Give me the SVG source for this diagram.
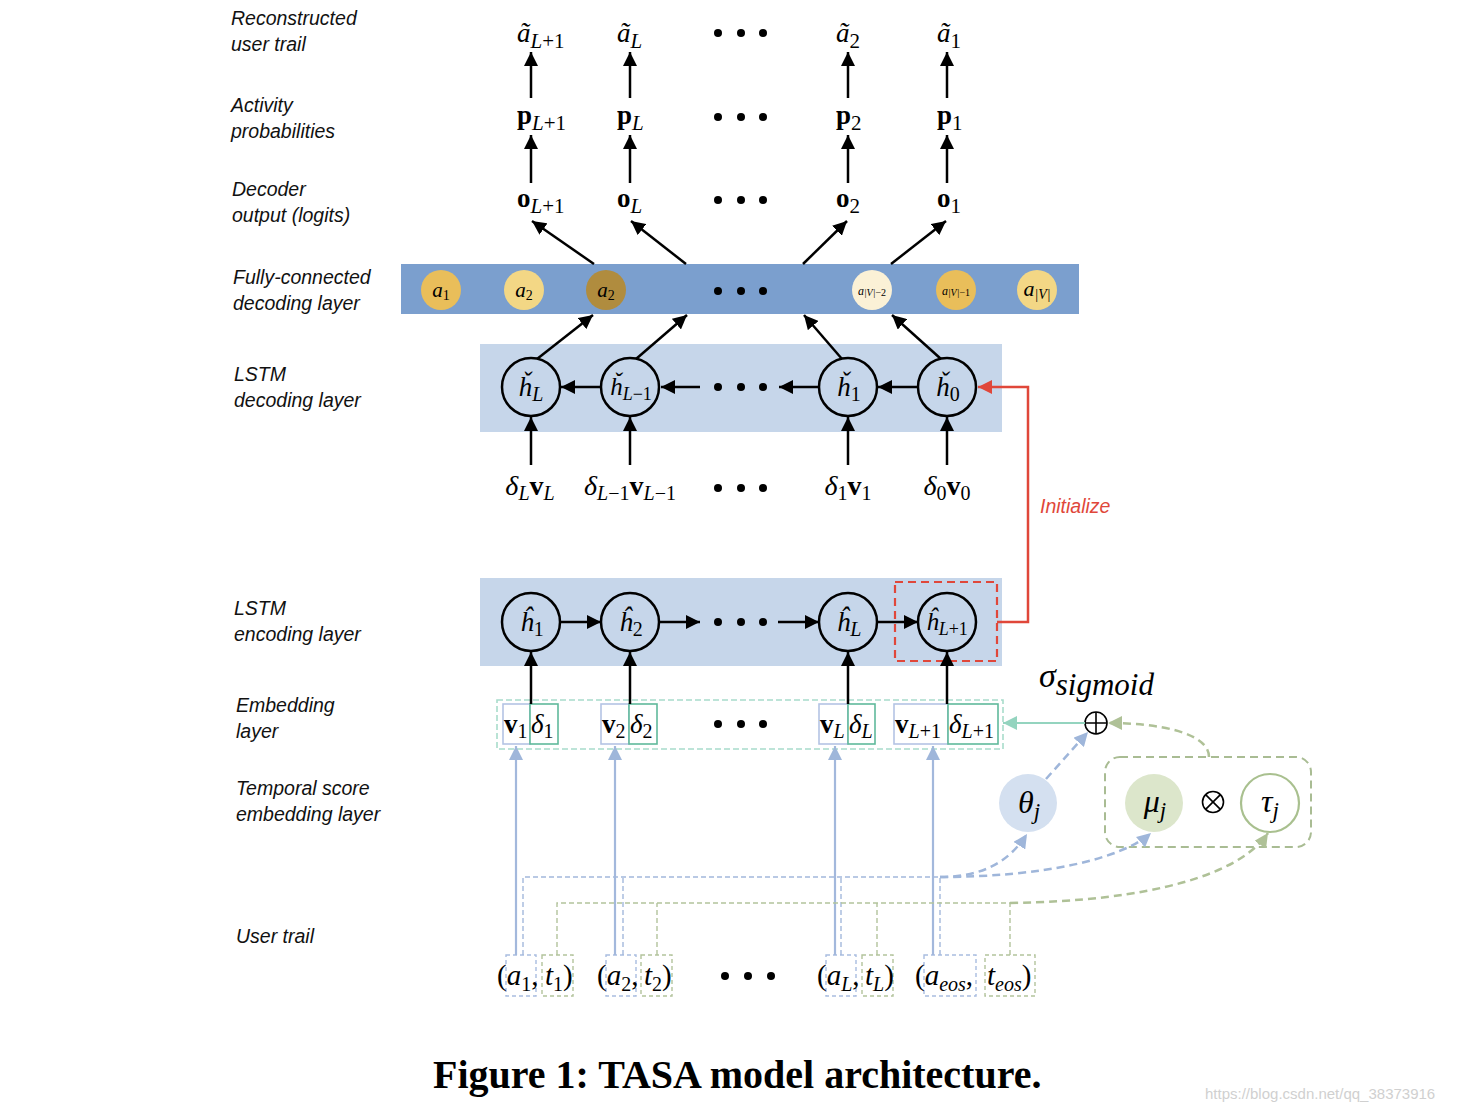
<svg xmlns="http://www.w3.org/2000/svg" width="1458" height="1112" viewBox="0 0 1458 1112">
<style>
.lbl{font-family:"Liberation Sans","DejaVu Sans",sans-serif;font-style:italic;font-size:19.5px;fill:#111}
.m{font-family:"Liberation Serif","DejaVu Serif",serif;fill:#000}
.it{font-style:italic}
.bf{font-weight:bold;font-style:normal}
.nw{font-weight:normal}
.up{font-style:normal}
.ln{stroke:#000;stroke-width:2.5;fill:none}
.cir{stroke:#000;stroke-width:2.5;fill:none}
.dot{fill:#000}
.bl{stroke:#A3B8DC;stroke-width:2.2;fill:none}
.bld{stroke:#A3B8DC;stroke-width:1.4;fill:none;stroke-dasharray:5 3}
.grd{stroke:#B3C39C;stroke-width:1.4;fill:none;stroke-dasharray:5 3}
.bld2{stroke:#9FB6DA;stroke-width:2.5;fill:none;stroke-dasharray:8 5}
.grd2{stroke:#AFC197;stroke-width:2.5;fill:none;stroke-dasharray:8 5}
.bbox{stroke:#A9BDE0;stroke-width:1.4;fill:none;stroke-dasharray:4 3}
.gbox{stroke:#B3C39C;stroke-width:1.4;fill:none;stroke-dasharray:4 3}
</style>
<defs>
<marker id="ak" viewBox="0 0 14 14" refX="14" refY="7" markerWidth="14" markerHeight="14" markerUnits="userSpaceOnUse" orient="auto"><path d="M0,0L14,7L0,14z" fill="#000"/></marker>
<marker id="ar" viewBox="0 0 14 14" refX="14" refY="7" markerWidth="14" markerHeight="14" markerUnits="userSpaceOnUse" orient="auto"><path d="M0,0L14,7L0,14z" fill="#E0473A"/></marker>
<marker id="ab" viewBox="0 0 14 14" refX="14" refY="7" markerWidth="14" markerHeight="14" markerUnits="userSpaceOnUse" orient="auto"><path d="M0,0L14,7L0,14z" fill="#9FB6DA"/></marker>
<marker id="ag" viewBox="0 0 14 14" refX="14" refY="7" markerWidth="14" markerHeight="14" markerUnits="userSpaceOnUse" orient="auto"><path d="M0,0L14,7L0,14z" fill="#AFC197"/></marker>
<marker id="at" viewBox="0 0 14 14" refX="14" refY="7" markerWidth="14" markerHeight="14" markerUnits="userSpaceOnUse" orient="auto"><path d="M0,0L14,7L0,14z" fill="#94D4BF"/></marker>
</defs>
<rect width="1458" height="1112" fill="#fff"/>

<!-- left labels -->
<g id="labels">
<text class="lbl" x="231" y="25">Reconstructed</text><text class="lbl" x="231" y="51">user trail</text>
<text class="lbl" x="231" y="112">Activity</text><text class="lbl" x="231" y="138">probabilities</text>
<text class="lbl" x="232" y="196">Decoder</text><text class="lbl" x="232" y="222">output (logits)</text>
<text class="lbl" x="233" y="284">Fully-connected</text><text class="lbl" x="233" y="310">decoding layer</text>
<text class="lbl" x="234" y="381">LSTM</text><text class="lbl" x="234" y="407">decoding layer</text>
<text class="lbl" x="234" y="615">LSTM</text><text class="lbl" x="234" y="641">encoding layer</text>
<text class="lbl" x="236" y="712">Embedding</text><text class="lbl" x="236" y="738">layer</text>
<text class="lbl" x="236" y="795">Temporal score</text><text class="lbl" x="236" y="821">embedding layer</text>
<text class="lbl" x="236" y="943">User trail</text>
</g>

<!-- layer backgrounds -->
<g id="fc-layer">
<rect x="401" y="264" width="678" height="50" fill="#7B9FCE"/>
<ellipse cx="441" cy="290" rx="20" ry="20" fill="#E9BE5A"/>
<ellipse cx="524" cy="290" rx="20" ry="20" fill="#F3D785"/>
<ellipse cx="606" cy="290" rx="20" ry="20" fill="#B08C3E"/>
<ellipse cx="872" cy="290" rx="20" ry="20" fill="#FBF1D6"/>
<ellipse cx="956" cy="290" rx="20" ry="20" fill="#E9BE5A"/>
<ellipse cx="1037" cy="290" rx="20" ry="20" fill="#F3D785"/>
<text class="m it" x="441" y="297" text-anchor="middle" style="font-size:21px" fill="#333">a<tspan font-size="14" dy="3" class="up">1</tspan></text>
<text class="m it" x="524" y="297" text-anchor="middle" style="font-size:21px" fill="#333">a<tspan font-size="14" dy="3" class="up">2</tspan></text>
<text class="m it" x="606" y="297" text-anchor="middle" style="font-size:21px" fill="#333">a<tspan font-size="14" dy="3" class="up">2</tspan></text>
<text class="m it" x="872" y="295" text-anchor="middle" style="font-size:12px" fill="#444">a<tspan font-size="10" dy="1">|V|</tspan><tspan font-size="10" class="up">−2</tspan></text>
<text class="m it" x="956" y="295" text-anchor="middle" style="font-size:12px" fill="#444">a<tspan font-size="10" dy="1">|V|</tspan><tspan font-size="10" class="up">−1</tspan></text>
<text class="m it" x="1037" y="296" text-anchor="middle" style="font-size:22px" fill="#333">a<tspan font-size="14" dy="3">|V|</tspan></text>
<circle class="dot" cx="718" cy="291" r="4"/><circle class="dot" cx="741" cy="291" r="4"/><circle class="dot" cx="763" cy="291" r="4"/>
</g>

<rect id="lstm-dec-bg" x="480" y="344" width="522" height="88" fill="#C6D6EA"/>
<rect id="lstm-enc-bg" x="480" y="578" width="522" height="88" fill="#C6D6EA"/>

<!-- top output rows -->
<g id="outputs" style="font-size:27px">
<text class="m it" x="517" y="42">ã<tspan font-size="21" dy="6">L</tspan><tspan font-size="21" class="up">+1</tspan></text>
<text class="m it" x="617" y="42">ã<tspan font-size="21" dy="6">L</tspan></text>
<text class="m it" x="836" y="42">ã<tspan font-size="21" class="up" dy="6">2</tspan></text>
<text class="m it" x="937" y="42">ã<tspan font-size="21" class="up" dy="6">1</tspan></text>
<text class="m bf" x="517" y="124">p<tspan font-size="21" class="it nw" dy="6">L</tspan><tspan font-size="21" class="nw">+1</tspan></text>
<text class="m bf" x="617" y="124">p<tspan font-size="21" class="it nw" dy="6">L</tspan></text>
<text class="m bf" x="836" y="124">p<tspan font-size="21" class="nw" dy="6">2</tspan></text>
<text class="m bf" x="937" y="124">p<tspan font-size="21" class="nw" dy="6">1</tspan></text>
<text class="m bf" x="517" y="207">o<tspan font-size="21" class="it nw" dy="6">L</tspan><tspan font-size="21" class="nw">+1</tspan></text>
<text class="m bf" x="617" y="207">o<tspan font-size="21" class="it nw" dy="6">L</tspan></text>
<text class="m bf" x="836" y="207">o<tspan font-size="21" class="nw" dy="6">2</tspan></text>
<text class="m bf" x="937" y="207">o<tspan font-size="21" class="nw" dy="6">1</tspan></text>
<circle class="dot" cx="718" cy="33" r="4"/><circle class="dot" cx="741" cy="33" r="4"/><circle class="dot" cx="763" cy="33" r="4"/>
<circle class="dot" cx="718" cy="117" r="4"/><circle class="dot" cx="741" cy="117" r="4"/><circle class="dot" cx="763" cy="117" r="4"/>
<circle class="dot" cx="718" cy="200" r="4"/><circle class="dot" cx="741" cy="200" r="4"/><circle class="dot" cx="763" cy="200" r="4"/>
</g>

<!-- LSTM decoding nodes -->
<g id="dec-hL"><circle class="cir" cx="531" cy="387" r="29"/><text class="m it" x="531" y="396" text-anchor="middle" style="font-size:27px">ȟ<tspan font-size="20" dy="5">L</tspan></text></g>
<g id="dec-hL1"><circle class="cir" cx="630" cy="387" r="29"/><text class="m it" x="631" y="395" text-anchor="middle" style="font-size:25px">ȟ<tspan font-size="18" dy="5">L</tspan><tspan font-size="18" class="up">−1</tspan></text></g>
<g id="dec-h1"><circle class="cir" cx="848" cy="387" r="29"/><text class="m it" x="849" y="396" text-anchor="middle" style="font-size:27px">ȟ<tspan font-size="20" class="up" dy="5">1</tspan></text></g>
<g id="dec-h0"><circle class="cir" cx="947" cy="387" r="29"/><text class="m it" x="948" y="396" text-anchor="middle" style="font-size:27px">ȟ<tspan font-size="20" class="up" dy="5">0</tspan></text></g>
<g id="dec-dots"><circle class="dot" cx="718" cy="387" r="4"/><circle class="dot" cx="741" cy="387" r="4"/><circle class="dot" cx="763" cy="387" r="4"/></g>

<!-- decoder inputs -->
<g id="dec-inputs" style="font-size:28px">
<text class="m" x="530" y="495" text-anchor="middle"><tspan class="it">δ</tspan><tspan font-size="20" class="it" dy="5">L</tspan><tspan class="bf" dy="-5">v</tspan><tspan font-size="20" class="it" dy="5">L</tspan></text>
<text class="m" x="630" y="495" text-anchor="middle"><tspan class="it">δ</tspan><tspan font-size="20" class="it" dy="5">L</tspan><tspan font-size="20">−1</tspan><tspan class="bf" dy="-5">v</tspan><tspan font-size="20" class="it" dy="5">L</tspan><tspan font-size="20">−1</tspan></text>
<text class="m" x="848" y="495" text-anchor="middle"><tspan class="it">δ</tspan><tspan font-size="20" dy="5">1</tspan><tspan class="bf" dy="-5">v</tspan><tspan font-size="20" dy="5">1</tspan></text>
<text class="m" x="947" y="495" text-anchor="middle"><tspan class="it">δ</tspan><tspan font-size="20" dy="5">0</tspan><tspan class="bf" dy="-5">v</tspan><tspan font-size="20" dy="5">0</tspan></text>
<circle class="dot" cx="718" cy="488" r="4"/><circle class="dot" cx="741" cy="488" r="4"/><circle class="dot" cx="763" cy="488" r="4"/>
</g>

<!-- LSTM encoding nodes -->
<g id="enc-h1"><circle class="cir" cx="531" cy="622" r="29"/><text class="m it" x="532" y="631" text-anchor="middle" style="font-size:27px">ĥ<tspan font-size="20" class="up" dy="5">1</tspan></text></g>
<g id="enc-h2"><circle class="cir" cx="630" cy="622" r="29"/><text class="m it" x="631" y="631" text-anchor="middle" style="font-size:27px">ĥ<tspan font-size="20" class="up" dy="5">2</tspan></text></g>
<g id="enc-hL"><circle class="cir" cx="848" cy="622" r="29"/><text class="m it" x="849" y="631" text-anchor="middle" style="font-size:27px">ĥ<tspan font-size="20" dy="5">L</tspan></text></g>
<g id="enc-hL1"><circle class="cir" cx="947" cy="622" r="29"/><text class="m it" x="947" y="630" text-anchor="middle" style="font-size:25px">ĥ<tspan font-size="18" dy="5">L</tspan><tspan font-size="18" class="up">+1</tspan></text></g>
<g id="enc-dots"><circle class="dot" cx="718" cy="622" r="4"/><circle class="dot" cx="741" cy="622" r="4"/><circle class="dot" cx="763" cy="622" r="4"/></g>
<rect id="init-box" x="895" y="582" width="102" height="79" fill="none" stroke="#E0473A" stroke-width="2.2" stroke-dasharray="8 5"/>

<!-- embedding layer -->
<g id="embedding" style="font-size:27px">
<rect x="497" y="700" width="506" height="49" fill="none" stroke="#A8DCCB" stroke-width="1.6" stroke-dasharray="6 3"/>
<rect x="503" y="704" width="27" height="40" fill="#fff" stroke="#B4C4E4" stroke-width="1.6"/>
<rect x="530" y="704" width="28" height="40" fill="#fff" stroke="#5FB99B" stroke-width="1.6"/>
<rect x="601" y="704" width="28" height="40" fill="#fff" stroke="#B4C4E4" stroke-width="1.6"/>
<rect x="629" y="704" width="28" height="40" fill="#fff" stroke="#5FB99B" stroke-width="1.6"/>
<rect x="819" y="704" width="29" height="40" fill="#fff" stroke="#B4C4E4" stroke-width="1.6"/>
<rect x="848" y="704" width="27" height="40" fill="#fff" stroke="#5FB99B" stroke-width="1.6"/>
<rect x="894" y="704" width="54" height="40" fill="#fff" stroke="#B4C4E4" stroke-width="1.6"/>
<rect x="948" y="704" width="50" height="40" fill="#fff" stroke="#5FB99B" stroke-width="1.6"/>
<text class="m bf" x="504" y="733">v<tspan font-size="20" class="nw" dy="5">1</tspan></text>
<text class="m it" x="531" y="733">δ<tspan font-size="20" class="up" dy="5">1</tspan></text>
<text class="m bf" x="602" y="733">v<tspan font-size="20" class="nw" dy="5">2</tspan></text>
<text class="m it" x="630" y="733">δ<tspan font-size="20" class="up" dy="5">2</tspan></text>
<text class="m bf" x="820" y="733">v<tspan font-size="20" class="it nw" dy="5">L</tspan></text>
<text class="m it" x="849" y="733">δ<tspan font-size="20" dy="5">L</tspan></text>
<text class="m bf" x="895" y="733">v<tspan font-size="20" class="it nw" dy="5">L</tspan><tspan font-size="20" class="nw">+1</tspan></text>
<text class="m it" x="949" y="733">δ<tspan font-size="20" dy="5">L</tspan><tspan font-size="20" class="up">+1</tspan></text>
<circle class="dot" cx="718" cy="724" r="4"/><circle class="dot" cx="741" cy="724" r="4"/><circle class="dot" cx="763" cy="724" r="4"/>
</g>

<!-- sigmoid / temporal score -->
<g id="sigma">
<text class="m it" x="1039" y="687" style="font-size:34px">σ<tspan font-size="31" dy="8">sigmoid</tspan></text>
</g>
<g id="oplus"><circle cx="1096" cy="723" r="11" fill="#fff" stroke="#000" stroke-width="1.6"/><path d="M1085,723H1107M1096,712V734" stroke="#000" stroke-width="1.6"/></g>
<g id="theta"><circle cx="1028" cy="803" r="29" fill="#D4E0F0"/><text class="m it" x="1029" y="813" text-anchor="middle" style="font-size:32px">θ<tspan font-size="23" dy="6">j</tspan></text></g>
<g id="mu-tau-group"><rect x="1105" y="757" width="206" height="90" rx="15" fill="none" stroke="#A9BC93" stroke-width="2" stroke-dasharray="8 5"/></g>
<g id="mu"><circle cx="1154" cy="803" r="29" fill="#DCE6CB"/><text class="m it" x="1155" y="812" text-anchor="middle" style="font-size:32px">μ<tspan font-size="23" dy="6">j</tspan></text></g>
<g id="otimes"><circle cx="1213" cy="802" r="10.5" fill="none" stroke="#000" stroke-width="1.6"/><path d="M1205.6,794.6L1220.4,809.4M1220.4,794.6L1205.6,809.4" stroke="#000" stroke-width="1.6"/></g>
<g id="tau"><circle cx="1270" cy="803" r="29" fill="#fff" stroke="#A9C08F" stroke-width="2.2"/><text class="m it" x="1270" y="812" text-anchor="middle" style="font-size:32px">τ<tspan font-size="23" dy="6">j</tspan></text></g>

<!-- user trail -->
<g id="user-trail" style="font-size:29px">
<rect class="bbox" x="506" y="955" width="30" height="41"/>
<rect class="gbox" x="542" y="955" width="31" height="41"/>
<rect class="bbox" x="606" y="955" width="30" height="41"/>
<rect class="gbox" x="641" y="955" width="31" height="41"/>
<rect class="bbox" x="826" y="955" width="30" height="41"/>
<rect class="gbox" x="862" y="955" width="31" height="41"/>
<rect class="bbox" x="924" y="955" width="52" height="41"/>
<rect class="gbox" x="985" y="955" width="50" height="41"/>
<text class="m it" x="497" y="985"><tspan class="up">(</tspan>a<tspan font-size="20" class="up" dy="6">1</tspan><tspan class="up" dy="-6">,</tspan><tspan x="545">t</tspan><tspan font-size="20" class="up" dy="6">1</tspan><tspan class="up" dy="-6">)</tspan></text>
<text class="m it" x="597" y="985"><tspan class="up">(</tspan>a<tspan font-size="20" class="up" dy="6">2</tspan><tspan class="up" dy="-6">,</tspan><tspan x="644">t</tspan><tspan font-size="20" class="up" dy="6">2</tspan><tspan class="up" dy="-6">)</tspan></text>
<text class="m it" x="817" y="985"><tspan class="up">(</tspan>a<tspan font-size="20" dy="6">L</tspan><tspan class="up" dy="-6">,</tspan><tspan x="865">t</tspan><tspan font-size="20" dy="6">L</tspan><tspan class="up" dy="-6">)</tspan></text>
<text class="m it" x="915" y="985"><tspan class="up">(</tspan>a<tspan font-size="20" dy="6">eos</tspan><tspan class="up" dy="-6">,</tspan><tspan x="987">t</tspan><tspan font-size="20" dy="6">eos</tspan><tspan class="up" dy="-6">)</tspan></text>
<circle class="dot" cx="725" cy="976" r="4"/><circle class="dot" cx="748" cy="976" r="4"/><circle class="dot" cx="771" cy="976" r="4"/>
</g>

<!-- connectors -->
<g id="connectors">
<line class="ln" x1="531" y1="98" x2="531" y2="52" marker-end="url(#ak)"/>
<line class="ln" x1="630" y1="98" x2="630" y2="52" marker-end="url(#ak)"/>
<line class="ln" x1="848" y1="98" x2="848" y2="52" marker-end="url(#ak)"/>
<line class="ln" x1="947" y1="98" x2="947" y2="52" marker-end="url(#ak)"/>
<line class="ln" x1="531" y1="183" x2="531" y2="135" marker-end="url(#ak)"/>
<line class="ln" x1="630" y1="183" x2="630" y2="135" marker-end="url(#ak)"/>
<line class="ln" x1="848" y1="183" x2="848" y2="135" marker-end="url(#ak)"/>
<line class="ln" x1="947" y1="183" x2="947" y2="135" marker-end="url(#ak)"/>
<line class="ln" x1="594" y1="264" x2="532" y2="221" marker-end="url(#ak)"/>
<line class="ln" x1="686" y1="264" x2="631" y2="221" marker-end="url(#ak)"/>
<line class="ln" x1="803" y1="264" x2="847" y2="221" marker-end="url(#ak)"/>
<line class="ln" x1="891" y1="264" x2="946" y2="221" marker-end="url(#ak)"/>
<line class="ln" x1="537" y1="359" x2="593" y2="315" marker-end="url(#ak)"/>
<line class="ln" x1="636" y1="359" x2="687" y2="315" marker-end="url(#ak)"/>
<line class="ln" x1="842" y1="359" x2="804" y2="315" marker-end="url(#ak)"/>
<line class="ln" x1="941" y1="359" x2="892" y2="315" marker-end="url(#ak)"/>
<line class="ln" x1="601" y1="387" x2="561" y2="387" marker-end="url(#ak)"/>
<line class="ln" x1="700" y1="387" x2="661" y2="387" marker-end="url(#ak)"/>
<line class="ln" x1="819" y1="387" x2="779" y2="387" marker-end="url(#ak)"/>
<line class="ln" x1="918" y1="387" x2="878" y2="387" marker-end="url(#ak)"/>
<line class="ln" x1="531" y1="465" x2="531" y2="417" marker-end="url(#ak)"/>
<line class="ln" x1="630" y1="465" x2="630" y2="417" marker-end="url(#ak)"/>
<line class="ln" x1="848" y1="465" x2="848" y2="417" marker-end="url(#ak)"/>
<line class="ln" x1="947" y1="465" x2="947" y2="417" marker-end="url(#ak)"/>
<line class="ln" x1="560" y1="622" x2="601" y2="622" marker-end="url(#ak)"/>
<line class="ln" x1="660" y1="622" x2="700" y2="622" marker-end="url(#ak)"/>
<line class="ln" x1="778" y1="622" x2="819" y2="622" marker-end="url(#ak)"/>
<line class="ln" x1="877" y1="622" x2="918" y2="622" marker-end="url(#ak)"/>
<line class="ln" x1="531" y1="704" x2="531" y2="652" marker-end="url(#ak)"/>
<line class="ln" x1="630" y1="704" x2="630" y2="652" marker-end="url(#ak)"/>
<line class="ln" x1="848" y1="704" x2="848" y2="652" marker-end="url(#ak)"/>
<line class="ln" x1="947" y1="704" x2="947" y2="652" marker-end="url(#ak)"/>
<path d="M997,622H1028V387H978" fill="none" stroke="#E0473A" stroke-width="2.5" marker-end="url(#ar)"/>
<text x="1040" y="513" font-family="Liberation Sans, DejaVu Sans, sans-serif" font-style="italic" font-size="19.5" fill="#E0473A">Initialize</text>
<line x1="1085" y1="723" x2="1003" y2="723" stroke="#94D4BF" stroke-width="2.2" marker-end="url(#at)"/>
<line class="bld2" x1="1046" y1="779" x2="1088" y2="732" marker-end="url(#ab)"/>
<path class="grd2" d="M1209,757C1209,733 1160,723 1108,723" marker-end="url(#ag)"/>
<line class="bl" x1="516" y1="955" x2="516" y2="746" marker-end="url(#ab)"/>
<line class="bl" x1="615" y1="955" x2="615" y2="746" marker-end="url(#ab)"/>
<line class="bl" x1="835" y1="955" x2="835" y2="746" marker-end="url(#ab)"/>
<line class="bl" x1="933" y1="955" x2="933" y2="746" marker-end="url(#ab)"/>
<path class="bld" d="M523,955V877H940M623,955V877M841,955V877M940,955V877"/>
<path class="bld2" d="M940,877C985,877 1010,860 1027,834" marker-end="url(#ab)"/>
<path class="bld2" d="M940,877C1040,877 1120,860 1151,833" marker-end="url(#ab)"/>
<path class="grd" d="M557,955V903H1010M657,955V903M877,955V903M1010,955V903"/>
<path class="grd2" d="M1010,903C1150,901 1240,875 1268,833" marker-end="url(#ag)"/>
</g>

<text x="433" y="1088" font-family="Liberation Serif, DejaVu Serif, serif" font-weight="bold" font-size="40" fill="#000">Figure 1: TASA model architecture.</text>
<text x="1205" y="1099" font-family="Liberation Sans, DejaVu Sans, sans-serif" font-size="15" fill="#D0D0D0">https://blog.csdn.net/qq_38373916</text>
</svg>
